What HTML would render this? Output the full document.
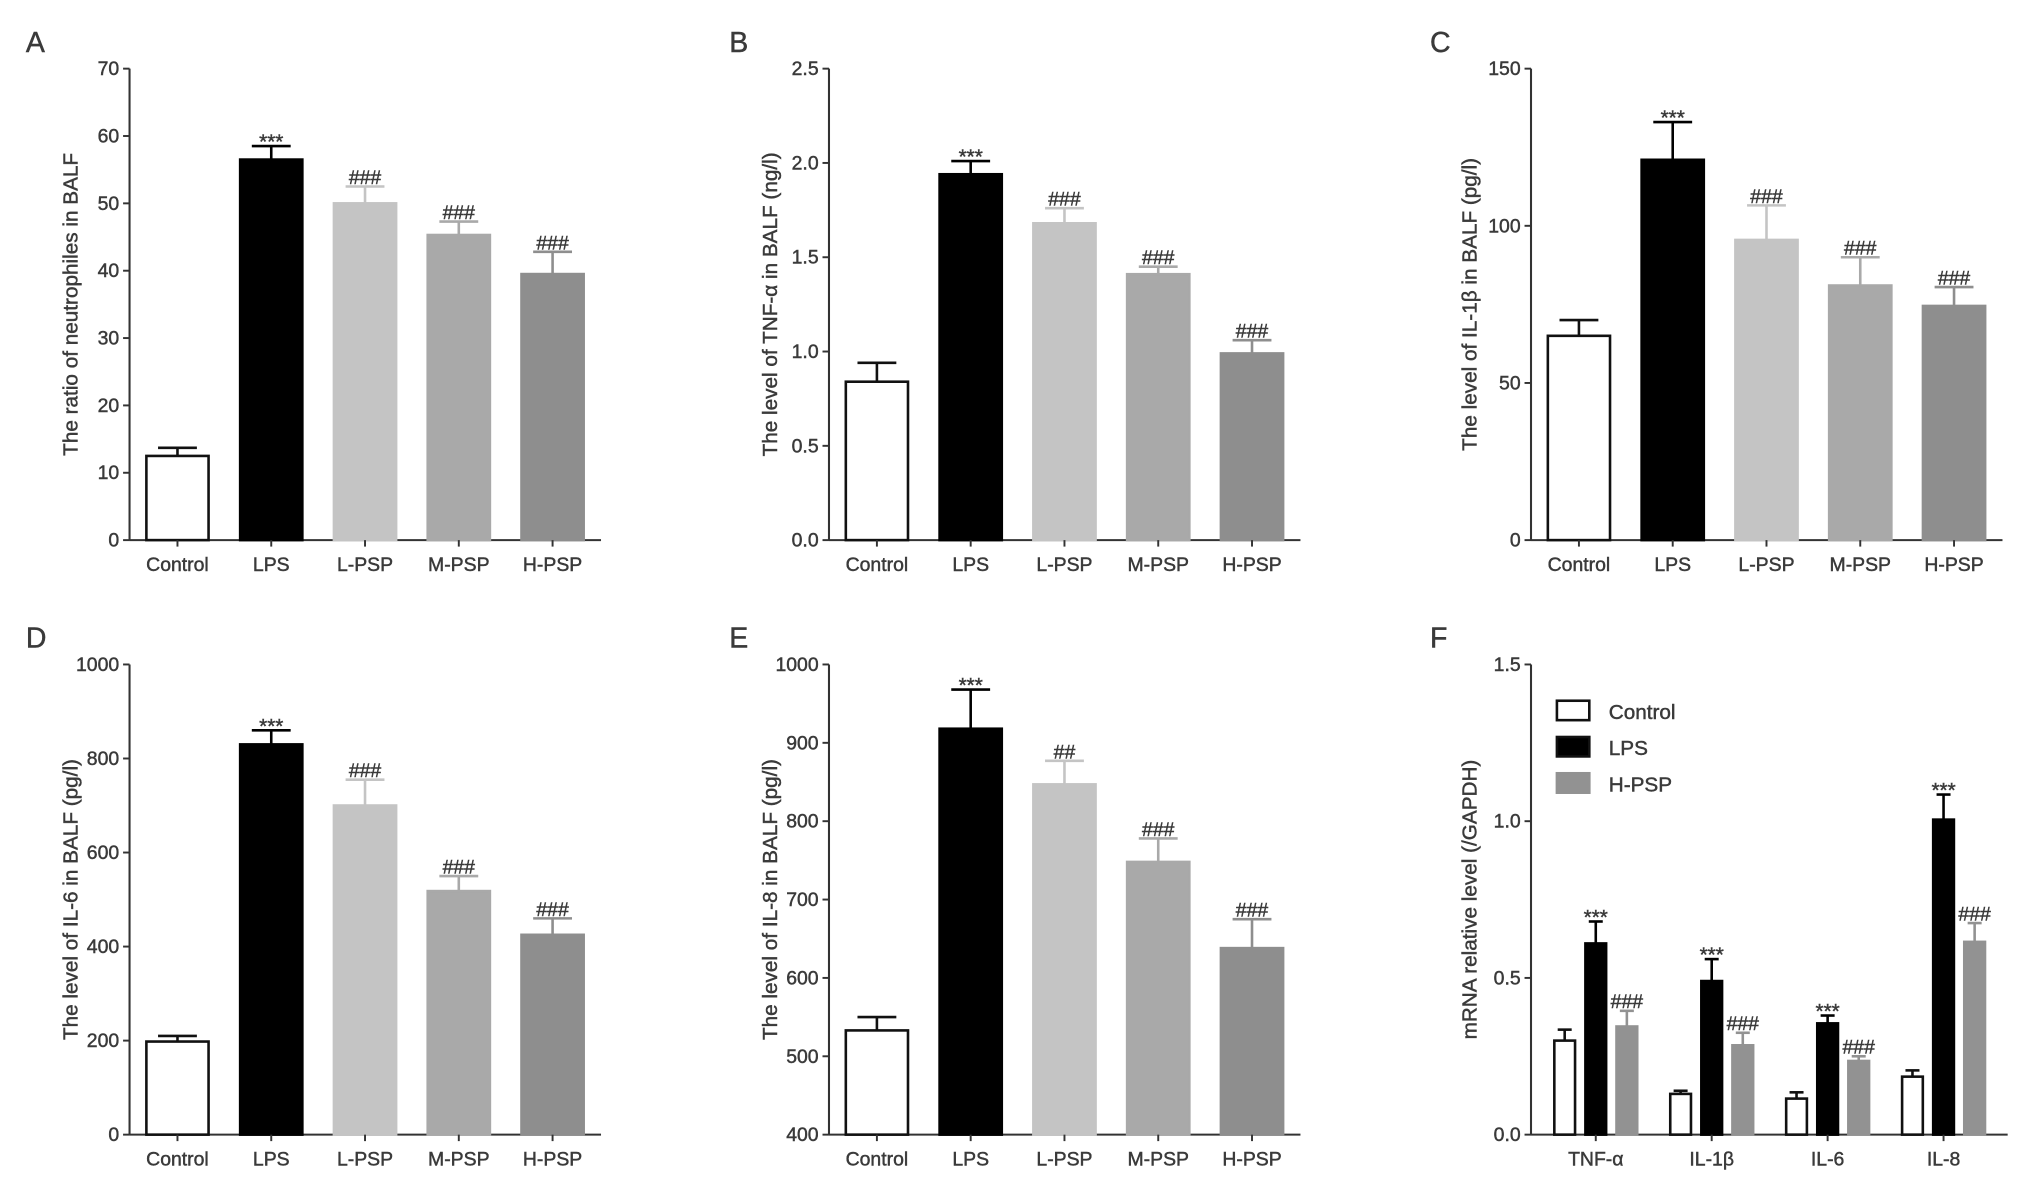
<!DOCTYPE html>
<html><head><meta charset="utf-8"><style>
html,body{margin:0;padding:0;background:#fff;}
svg{display:block;}
text{font-family:"Liberation Sans",sans-serif;fill:#3a3a3a;stroke:#3a3a3a;stroke-width:0.35;}
</style></head><body>
<svg id="fig" xmlns="http://www.w3.org/2000/svg" width="2031" height="1195" viewBox="0 0 1568 922.6"></svg>
<script>
const groups = ["Control","LPS","L-PSP","M-PSP","H-PSP"];
const colors = ["#ffffff","#000000","#c4c4c4","#a9a9a9","#8e8e8e"];
const valsA = [12.5,56.5,50,45.3,39.5];
const errA = [1.2,2,2.5,2,3.3];
const sigA = ["","***","###","###","###"];
const ticksA = [0,10,20,30,40,50,60,70];
const valsB = [0.84,1.94,1.68,1.41,0.99];
const errB = [0.1,0.07,0.08,0.04,0.07];
const sigB = ["","***","###","###","###"];
const ticksB = [0,0.5,1.0,1.5,2.0,2.5];
const valsC = [65,121,95.5,81,74.5];
const errC = [5,12,11,9,6];
const sigC = ["","***","###","###","###"];
const ticksC = [0,50,100,150];
const valsD = [198,830,700,518,425];
const errD = [12,30,55,32,35];
const sigD = ["","***","###","###","###"];
const ticksD = [0,200,400,600,800,1000];
const valsE = [533,918,847,748,638];
const errE = [17,50,30,30,37];
const sigE = ["","***","##","###","###"];
const ticksE = [400,500,600,700,800,900,1000];
const catsF = ["TNF-α","IL-1β","IL-6","IL-8"];
const seriesF = ["Control","LPS","H-PSP"];
const colorsF = ["#ffffff","#000000","#929292"];
const ctrlF = [0.30,0.13,0.115,0.185];
const ctrlErrF = [0.035,0.01,0.02,0.02];
const lpsF = [0.61,0.49,0.355,1.005];
const lpsErrF = [0.07,0.07,0.025,0.08];
const hpspF = [0.345,0.285,0.235,0.615];
const hpspErrF = [0.05,0.04,0.015,0.06];
const sigLpsF = ["***","***","***","***"];
const sigHF = ["###","###","###","###"];
const ticksF = [0,0.5,1.0,1.5];

const NS="http://www.w3.org/2000/svg";
const svg=document.getElementById('fig');
function mk(tag,attrs,parent,txt){const e=document.createElementNS(NS,tag);for(const k in attrs)e.setAttribute(k,attrs[k]);if(txt!==undefined)e.textContent=txt;(parent||svg).appendChild(e);return e;}

function axes(g,ax,y0,y1,xEnd,ticks,dmin,dmax,fmt){
  const ys=v=>y0-(v-dmin)/(dmax-dmin)*(y0-y1);
  const ya=mk('line',{x1:ax,y1:ys(dmax),x2:ax,y2:y0,stroke:'#333','stroke-width':1.6},g);
  
  const xa=mk('line',{x1:ax,y1:y0,x2:xEnd,y2:y0,stroke:'#333','stroke-width':1.6},g);
  
  ticks.forEach(t=>{
    const y=ys(t);
    const tl=mk('line',{x1:ax-5,y1:y,x2:ax,y2:y,stroke:'#333','stroke-width':1.5},g);
    
    const tx=mk('text',{x:ax-8,y:y+5,'text-anchor':'end','font-size':15},g,fmt(t));
    
  });
  return ys;
}
function bar(g,x,w,v,e,color,ys,y0,sig,name){
  const top=ys(v), et=ys(v+e);
  const stroke=color==='#ffffff'?'#111':color;
  const el=mk('line',{x1:x+w/2,y1:et,x2:x+w/2,y2:top,stroke:stroke,'stroke-width':2},g);
  
  const cap=mk('line',{x1:x+w/2-w*0.3,y1:et,x2:x+w/2+w*0.3,y2:et,stroke:stroke,'stroke-width':2},g);
  
  const r=mk('rect',{x:x+1,y:top,width:w-2,height:y0-top,fill:color,stroke:stroke,'stroke-width':2},g);
  
  if(sig){const s=mk('text',{x:x+w/2,y:sig[0]==='*'?et+2:et-2,'text-anchor':'middle','font-size':sig[0]==='*'?16:15},g,sig);
    }
}
function panel(letter,lx,ly,ax,y0,y1,dmin,dmax,ticks,fmt,vals,errs,sigs,title,tx){
  const g=mk('g',{});
  
  const L=mk('text',{x:lx,y:ly,'font-size':22,fill:'#111'},g,letter);
  
  const ys=axes(g,ax,y0,y1,ax+364,ticks,dmin,dmax,fmt);
  groups.forEach((c,i)=>{
    const x=ax+12+i*72.4;
    bar(g,x,50,vals[i],errs[i],colors[i],ys,y0,sigs[i],'bar-'+c.toLowerCase());
    const tk=mk('line',{x1:x+25,y1:y0,x2:x+25,y2:y0+5,stroke:'#333','stroke-width':1.5},g);
    
    const t=mk('text',{x:x+25,y:y0+24,'text-anchor':'middle','font-size':15},g,c);
    
  });
  const yt=mk('text',{x:0,y:0,'text-anchor':'middle','font-size':16,transform:`translate(${tx},${(y0+y1)/2}) rotate(-90)`},g,title);
  
}
const f0=t=>String(t), f1=t=>t.toFixed(1);
panel('A',20,40,100,417,53,0,70,ticksA,f0,valsA,errA,sigA,'The ratio of neutrophiles in BALF',60);
panel('B',563,40,640,417,53,0,2.5,ticksB,f1,valsB,errB,sigB,'The level of TNF-α  in BALF (ng/l)',600);
panel('C',1104,40,1182,417,53,0,150,ticksC,f0,valsC,errC,sigC,'The level of IL-1β  in BALF (pg/l)',1140);
panel('D',20,500,100,876,513,0,1000,ticksD,f0,valsD,errD,sigD,'The level of IL-6 in BALF (pg/l)',60);
panel('E',563,500,640,876,513,400,1000,ticksE,f0,valsE,errE,sigE,'The level of IL-8 in BALF (pg/l)',600);

// Panel F
(function(){
  const g=mk('g',{});
  
  const L=mk('text',{x:1104,y:500,'font-size':22,fill:'#111'},g,'F');
  
  const ax=1182,y0=876,y1=513;
  const ys=axes(g,ax,y0,y1,1550,ticksF,0,1.5,f1);
  const series=[[ctrlF,ctrlErrF,null],[lpsF,lpsErrF,sigLpsF],[hpspF,hpspErrF,sigHF]];
  catsF.forEach((c,i)=>{
    const gx=ax+17+i*89.5;
    series.forEach((s,j)=>{
      bar(g,gx+j*24,18,s[0][i],s[1][i],colorsF[j],ys,y0,s[2]?s[2][i]:'','bar-'+seriesF[j].toLowerCase()+'-'+c.toLowerCase());
    });
    const cx=gx+24+9;
    const tk=mk('line',{x1:cx,y1:y0,x2:cx,y2:y0+5,stroke:'#333','stroke-width':1.5},g);
    
    const t=mk('text',{x:cx,y:y0+24,'text-anchor':'middle','font-size':15},g,c);
    
  });
  const yt=mk('text',{x:0,y:0,'text-anchor':'middle','font-size':16,transform:`translate(1140,${(y0+y1)/2}) rotate(-90)`},g,'mRNA relative level (/GAPDH)');
  
  seriesF.forEach((s,j)=>{
    const y=541+j*28;
    const r=mk('rect',{x:1202,y:y,width:25,height:15,fill:colorsF[j],stroke:j===2?colorsF[j]:'#111','stroke-width':2},g);
    
    const t=mk('text',{x:1242,y:y+14,'font-size':16},g,s);
    
  });
})();
</script>
</body></html>
